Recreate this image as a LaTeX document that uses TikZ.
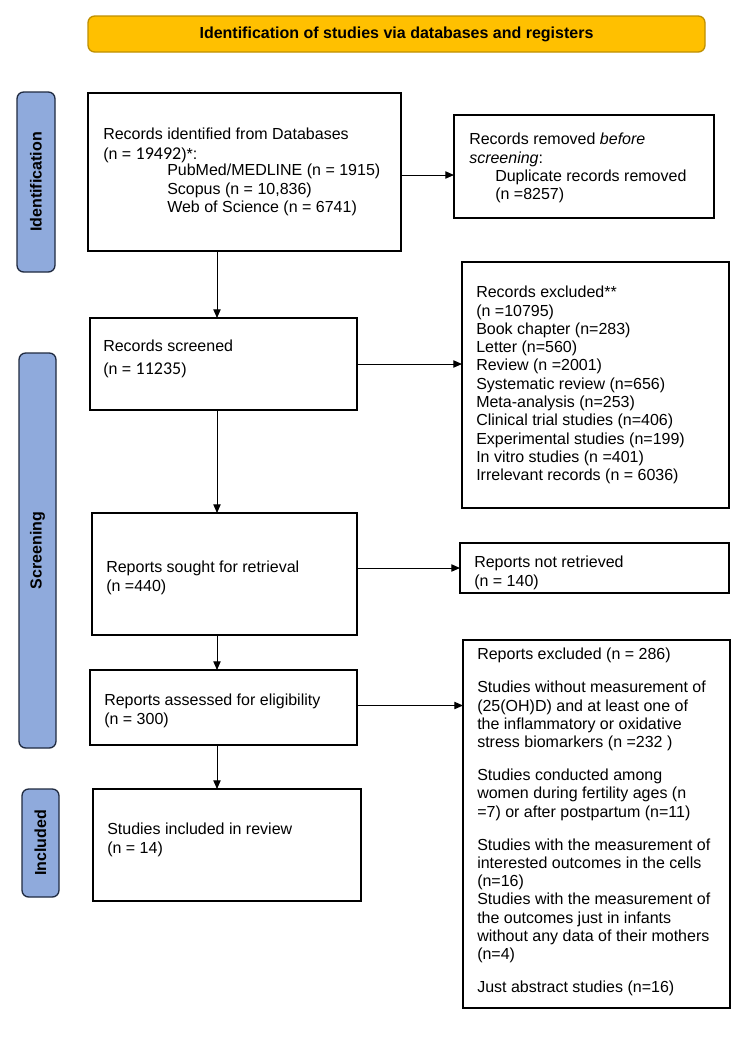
\documentclass[tikz,border=0pt]{standalone}
\usepackage{fontspec}
\setmainfont{Liberation Sans}
\newfontfamily\calib{Carlito}
\usetikzlibrary{arrows.meta,calc,fit}
\definecolor{bannerfill}{HTML}{FFC000}
\definecolor{bannerdraw}{HTML}{BF9000}
\definecolor{sidefill}{HTML}{8FAADC}
\definecolor{sidedraw}{HTML}{1F2A40}
\newcommand{\nn}[1]{{\calib\fontsize{13.5}{13.7}\selectfont #1}}
\begin{document}
\begin{tikzpicture}[x=0.75pt,y=-0.75pt,
  box/.style={draw=black, line width=1pt, inner sep=0pt, outer sep=0pt},
  banner/.style={draw=bannerdraw, fill=bannerfill, line width=1pt, rounded corners=5pt, inner sep=0pt, outer sep=0pt},
  side/.style={draw=sidedraw, fill=sidefill, line width=1pt, rounded corners=5pt, inner sep=0pt, outer sep=0pt},
  txt/.style={anchor=north west, inner sep=0pt, align=left, font=\fontsize{12}{13.7}\selectfont},
  sidetxt/.style={rotate=90, inner sep=0pt, font=\fontsize{12}{14}\selectfont\bfseries},
  arr/.style={-{Triangle[length=6.5pt,width=5.5pt]}, line width=0.75pt}
]
\useasboundingbox[fill=white] (0,0) rectangle (744,1051);

% banner
\node[banner, fit={(88,16) (705,52)}] (banner) {};
\node[inner sep=0pt, font=\fontsize{12}{14}\selectfont\bfseries] (bannertxt) at (banner.center) {Identification of studies via databases and registers};

% side labels
\node[side, fit={(17,92) (55,272)}] (sideid) {};
\node[sidetxt] (sideidtxt) at (sideid.center) {Identification};
\node[side, fit={(19,353) (56,748)}] (sidescr) {};
\node[sidetxt] (sidescrtxt) at (sidescr.center) {Screening};
\node[side, fit={(22,789) (59,897)}] (sideinc) {};
\node[sidetxt] (sideinctxt) at (sideinc.center) {Included};

% boxes
\node[box, fit={(88,93) (401,251)}] (ident) {};
\node[box, fit={(454,115) (714,218)}] (removed) {};
\node[box, fit={(90,318) (357,410)}] (screened) {};
\node[box, fit={(462,262) (729,508)}] (excluded) {};
\node[box, fit={(92,513) (357,635)}] (sought) {};
\node[box, fit={(460,543) (729,593)}] (notret) {};
\node[box, fit={(90,670) (357,745)}] (assessed) {};
\node[box, fit={(463,640) (730,1008)}] (repexcl) {};
\node[box, fit={(93,789) (361,901)}] (included) {};

% texts
\node[txt] (identtxt) at (103,128) {Records identified from Databases\\[1pt]
(n = \nn{19492})*:\\[-1.5pt]
\hspace*{48pt}PubMed/MEDLINE (n = 1915)\\
\hspace*{48pt}Scopus (n = 10,836)\\
\hspace*{48pt}Web of Science (n = 6741)};
\node[txt] (removedtxt) at (469,133) {Records removed \textit{before}\\
\textit{screening}:\\
\hspace*{19.5pt}Duplicate records removed\\
\hspace*{19.5pt}(n =8257)};
\node[txt] (screenedtxt) at (103,340) {Records screened\\[3pt]
(n = \nn{11235})};
\node[txt] (excludedtxt) at (476,286) {Records excluded**\\
(n =10795)\\
Book chapter (n=283)\\
Letter (n=560)\\
Review (n =2001)\\
Systematic review (n=656)\\
Meta-analysis (n=253)\\
Clinical trial studies (n=406)\\
Experimental studies (n=199)\\
In vitro studies (n =401)\\
Irrelevant records (n = 6036)};
\node[txt] (soughttxt) at (106,561) {Reports sought for retrieval\\
(n =440)};
\node[txt] (notrettxt) at (474,556) {Reports not retrieved\\
(n = 140)};
\node[txt] (assessedtxt) at (104,694) {Reports assessed for eligibility\\
(n = 300)};
\node[txt] (repexcltxt) at (477,648) {Reports excluded (n = 286)\\[11pt]
Studies without measurement of\\
(25(OH)D) and at least one of\\
the inflammatory or oxidative\\
stress biomarkers (n =232 )\\[11pt]
Studies conducted among\\
women during fertility ages (n\\
=7) or after postpartum (n=11)\\[11pt]
Studies with the measurement of\\
interested outcomes in the cells\\
(n=16)\\
Studies with the measurement of\\
the outcomes just in infants\\
without any data of their mothers\\
(n=4)\\[11pt]
Just abstract studies (n=16)};
\node[txt] (includedtxt) at (107,823) {Studies included in review\\
(n = 14)};

% connectors
\coordinate (spine) at (217,0);
\draw[arr] ($(ident.east)+(0,3)$) -- ($(removed.west)+(0,8.5)$);
\draw[arr] (ident.south -| spine) -- (screened.north -| spine);
\draw[arr] (screened.east) -- (screened.east -| excluded.west);
\draw[arr] (screened.south -| spine) -- (sought.north -| spine);
\draw[arr] (notret.west -| sought.east) -- (notret.west);
\draw[arr] (sought.south -| spine) -- (assessed.north -| spine);
\draw[arr] ($(assessed.east)+(0,-2)$) -- ($(assessed.east -| repexcl.west)+(0,-2)$);
\draw[arr] (assessed.south -| spine) -- (included.north -| spine);
\end{tikzpicture}
\end{document}
